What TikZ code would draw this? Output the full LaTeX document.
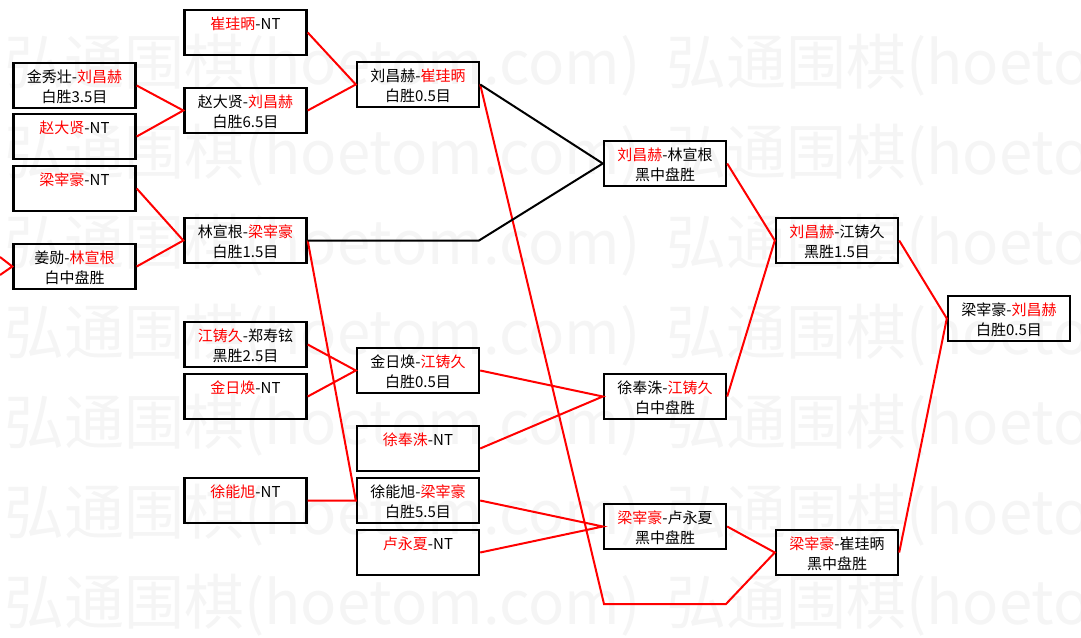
\documentclass[tikz,border=0pt]{standalone}
\usepackage{fontspec}
\setmainfont{Noto Sans CJK SC}
\usepackage{tikz}
\usepackage{color}

\newcommand{\win}[1]{\textcolor{red}{#1}}
\newcommand{\match}[2]{\rule{0pt}{17pt}#1\\#2\rule[-3pt]{0pt}{3pt}}

\begin{document}
\begin{tikzpicture}[x=1pt,y=-1pt,
    game/.style={draw,line width=2.4pt,minimum width=122pt,minimum height=45pt,
      inner sep=0pt,align=center,font=\fontsize{15}{20}\selectfont},
    wline/.style={red,line width=2pt},
    bline/.style={black,line width=2pt},
    wmark/.style={anchor=west,inner sep=0pt,text=black!4,font=\fontsize{60}{60}\selectfont}]
    \useasboundingbox (0,0) rectangle (1081,637);

    % watermark
    \foreach \r in {0,...,6}{
      \node[wmark] (wma\r) at (4,65+90*\r) {弘通围棋(hoetom.com)};
      \node[wmark] (wmb\r) at (666,65+90*\r) {弘通围棋(hoetom.com)};
    }

    \node[game] (jinliu) at (74.5,85.5) {\match{金秀壮-\win{刘昌赫}}{白胜3.5目}};
    \node[game] (zhaoNT) at (74.5,136.5) {\match{\win{赵大贤}-NT}{}};
    \node[game] (liangNT) at (74.5,188.5) {\match{\win{梁宰豪}-NT}{}};
    \node[game] (jianglin) at (74.5,266.5) {\match{姜勋-\win{林宣根}}{白中盘胜}};

    \node[game] (cuiNT) at (245.5,32.5) {\match{\win{崔珪昞}-NT}{}};
    \node[game] (zhaoliu) at (245.5,110.5) {\match{赵大贤-\win{刘昌赫}}{白胜6.5目}};
    \node[game] (linliang) at (245.5,240.5) {\match{林宣根-\win{梁宰豪}}{白胜1.5目}};
    \node[game] (jiangzheng) at (245.5,344.5) {\match{\win{江铸久}-郑寿铉}{黑胜2.5目}};
    \node[game] (jinNT) at (245.5,396.5) {\match{\win{金日焕}-NT}{}};
    \node[game] (xunengNT) at (245.5,500.5) {\match{\win{徐能旭}-NT}{}};

    \node[game] (liucui) at (418,84.5) {\match{刘昌赫-\win{崔珪昞}}{白胜0.5目}};
    \node[game] (jinjiang) at (418,370.5) {\match{金日焕-\win{江铸久}}{白胜0.5目}};
    \node[game] (xufengNT) at (418,448.5) {\match{\win{徐奉洙}-NT}{}};
    \node[game] (xuliang) at (418,500.5) {\match{徐能旭-\win{梁宰豪}}{白胜5.5目}};
    \node[game] (luNT) at (418,552.5) {\match{\win{卢永夏}-NT}{}};

    \node[game] (liulin) at (665,163.5) {\match{\win{刘昌赫}-林宣根}{黑中盘胜}};
    \node[game] (xujiang) at (665,396.5) {\match{徐奉洙-\win{江铸久}}{白中盘胜}};
    \node[game] (lianglu) at (665,526.5) {\match{\win{梁宰豪}-卢永夏}{黑中盘胜}};

    \node[game] (liujiang) at (837,240.5) {\match{\win{刘昌赫}-江铸久}{黑胜1.5目}};
    \node[game] (liangcui) at (837,552.5) {\match{\win{梁宰豪}-崔珪昞}{黑中盘胜}};

    \node[game] (liangliu) at (1009,318.5) {\match{梁宰豪-\win{刘昌赫}}{白胜0.5目}};

    \coordinate (edgeA) at (0,257);
    \coordinate (edgeB) at (0,275);
    \coordinate (bend) at (479,240.5);
    \coordinate (low1) at (604,604);
    \coordinate (low2) at (726,604);

    \draw[wline] (edgeA)--(jianglin.west)--(edgeB)
          (jinliu.east)--(zhaoliu.west)--(zhaoNT.east)
          (liangNT.east)--(linliang.west)--(jianglin.east)
          (cuiNT.east)--(liucui.west)--(zhaoliu.east)
          (linliang.east)--(xuliang.west)--(xunengNT.east)
          (jiangzheng.east)--(jinjiang.west)--(jinNT.east)
          (jinjiang.east)--(xujiang.west)--(xufengNT.east)
          (xuliang.east)--(lianglu.west)--(luNT.east)
          (liucui.east)--(low1)--(low2)--(liangcui.west)--(lianglu.east)
          (liulin.east)--(liujiang.west)--(xujiang.east)
          (liujiang.east)--(liangliu.west)--(liangcui.east)
          ;
    \draw[bline] (linliang.east)--(bend)--(liulin.west)--(liucui.east);

  \end{tikzpicture}
\end{document}
